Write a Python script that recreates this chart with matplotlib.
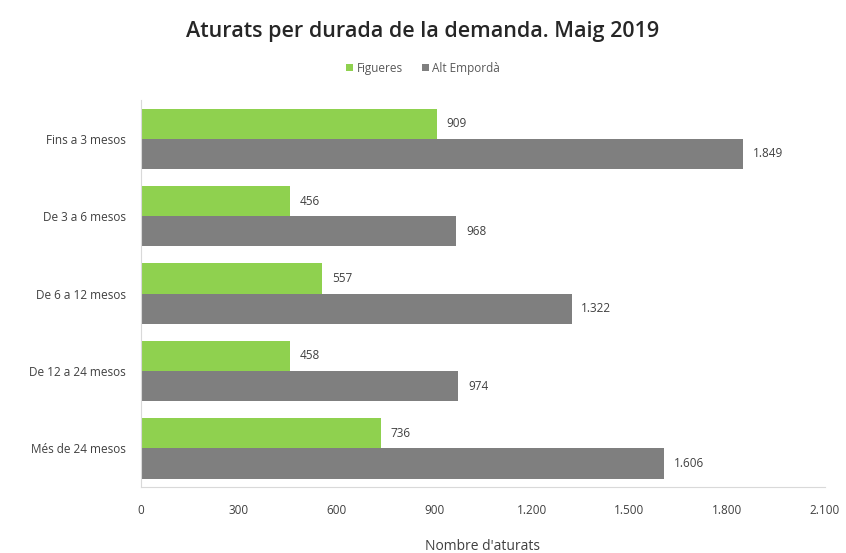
import numpy as np
import matplotlib.pyplot as plt

categories = ['Fins a 3 mesos', 'De 3 a 6 mesos', 'De 6 a 12 mesos',
              'De 12 a 24 mesos', 'Més de 24 mesos']
figueres = [909, 456, 557, 458, 736]
alt_emporda = [1849, 968, 1322, 974, 1606]
xticks = [0, 300, 600, 900, 1200, 1500, 1800, 2100]
xtick_labels = ['0', '300', '600', '900', '1.200', '1.500', '1.800', '2.100']

def fmt(v):
    return f'{v:,}'.replace(',', '.')

plt.rcParams['font.family'] = ['Open Sans', 'DejaVu Sans']

fig = plt.figure(figsize=(8.46, 5.53), dpi=100)
ax = fig.add_axes([0.1667, 0.119, 0.8083, 0.70])

y = np.arange(len(categories))
h = 0.39
green = '#8FD14F'
grey = '#7F7F7F'

b1 = ax.barh(y - h / 2, figueres, height=h, color=green, label='Figueres')
b2 = ax.barh(y + h / 2, alt_emporda, height=h, color=grey, label='Alt Empordà')

for rect, v in zip(b1, figueres):
    ax.text(rect.get_width() + 30, rect.get_y() + rect.get_height() / 2, fmt(v),
            va='center', ha='left', fontsize=8.5, color='#404040')
for rect, v in zip(b2, alt_emporda):
    ax.text(rect.get_width() + 30, rect.get_y() + rect.get_height() / 2, fmt(v),
            va='center', ha='left', fontsize=8.5, color='#404040')

ax.set_yticks(y)
ax.set_yticklabels(categories, fontsize=8.5, color='#404040')
ax.invert_yaxis()
ax.set_ylim(4.5, -0.5)
ax.set_xlim(0, 2100)
ax.set_xticks(xticks)
ax.set_xticklabels(xtick_labels, fontsize=8.5, color='#404040')
ax.tick_params(axis='both', length=0)
ax.tick_params(axis='x', pad=12)
ax.tick_params(axis='y', pad=11)

for s in ['top', 'right']:
    ax.spines[s].set_visible(False)
ax.spines['left'].set_color('#D9D9D9')
ax.spines['bottom'].set_color('#D9D9D9')

ax.set_xlabel("Nombre d'aturats", fontsize=10, color='#404040', labelpad=16)

fig.text(0.5, 0.943, 'Aturats per durada de la demanda. Maig 2019',
         ha='center', va='center', fontsize=15.5, fontweight='semibold', color='#262626')
fig.legend(handles=[b1, b2], labels=['Figueres', 'Alt Empordà'],
           loc='center', bbox_to_anchor=(0.5, 0.877), ncol=2, frameon=False,
           fontsize=8.5, handlelength=0.6, handleheight=0.6, handletextpad=0.3,
           columnspacing=1.6, labelcolor='#595959')

fig.savefig('out.png', dpi=100)
